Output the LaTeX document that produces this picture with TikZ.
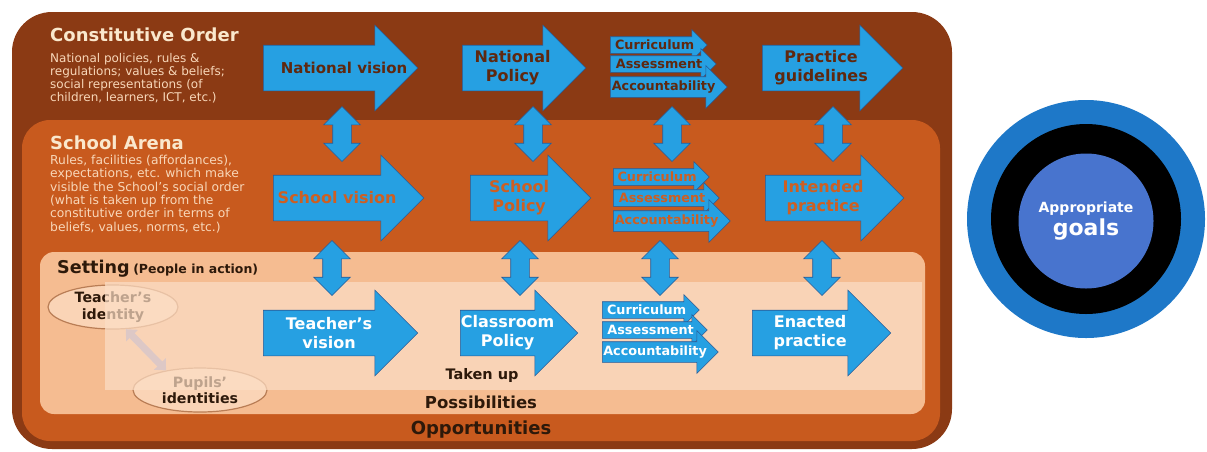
\documentclass[tikz,border=0pt]{standalone}
\usepackage{fontspec}
\setmainfont{DejaVu Sans}
\usetikzlibrary{shapes.arrows,shapes.geometric,arrows.meta}

\definecolor{brownout}{RGB}{139,58,20}
\definecolor{arena}{RGB}{200,90,30}
\definecolor{peach}{RGB}{245,188,145}
\definecolor{peachlight}{RGB}{252,222,198}
\definecolor{arrowblue}{RGB}{38,160,226}
\definecolor{arrowedge}{RGB}{40,90,150}
\definecolor{toptext}{RGB}{95,40,15}
\definecolor{midtext}{RGB}{205,95,35}
\definecolor{darktext}{RGB}{45,25,10}
\definecolor{cream}{RGB}{250,232,205}
\definecolor{desctext}{RGB}{248,215,185}
\definecolor{identedge}{RGB}{185,125,85}
\definecolor{identfill}{RGB}{250,212,182}
\definecolor{linkgray}{RGB}{150,150,200}
\definecolor{ringblue}{RGB}{30,120,200}
\definecolor{coreblue}{RGB}{72,116,206}

\newcommand{\shaftbox}[3]{\parbox[c][#1][c]{#2}{\centering #3}}

\begin{document}
\begin{tikzpicture}[x=1pt, y=-1pt,
    bigarrow/.style={single arrow, draw=arrowedge, line width=0.6pt, fill=arrowblue, inner sep=0pt, single arrow head extend=20pt, anchor=tail, font=\bfseries\fontsize{16}{19}\selectfont},
    smallarrow/.style={single arrow, draw=arrowedge, line width=0.6pt, fill=arrowblue, inner sep=0pt, single arrow head extend=7pt, anchor=tail, font=\bfseries\fontsize{12.8}{14}\selectfont},
    widehead/.style={single arrow head extend=11pt},
    vlink/.style={double arrow, rotate=90, draw=arrowedge, line width=0.6pt, fill=arrowblue, inner xsep=0pt, inner ysep=9pt, double arrow head extend=9pt, minimum height=55pt},
    heading/.style={anchor=base west, text=cream, inner sep=0pt, font=\bfseries\fontsize{18}{20}\selectfont},
    desc/.style={anchor=north west, align=left, text=desctext, inner sep=0pt},
    ident/.style={ellipse, draw=identedge, line width=1.2pt, fill=identfill, inner sep=0pt, minimum width=130pt, minimum height=44pt, align=center, text=darktext, font=\bfseries\fontsize{14.2}{16.5}\selectfont},
    idlink/.style={{Triangle[width=16pt,length=9pt]}-{Triangle[width=16pt,length=9pt]}, line width=7pt, draw=linkgray},
    level/.style={text=darktext, inner sep=0pt}
]
    \fill[white] (0,0) rectangle (1207,451);
    \useasboundingbox (0,0) rectangle (1207,451);

    % Nested frames
    \fill[brownout, rounded corners=40pt] (12,12) rectangle (952,449);
    \fill[arena, rounded corners=28pt] (22,120) rectangle (940,441);
    \fill[peach, rounded corners=14pt] (40,252) rectangle (925,414);

    % Identities
    \node[ident] (tid) at (113,307) {Teacher's\\identity};
    \node[ident, minimum width=134pt] (pid) at (200,390) {Pupils'\\identities};
    \draw[idlink] (tid.-60) -- (pid.150);
    \fill[peachlight, opacity=0.7] (105,282) rectangle (922,390);

    % Labels
    \node[heading] (cohead) at (50,41) {Constitutive Order};
    \node[desc, font=\fontsize{12}{13}\selectfont] (codesc) at (50,53) {National policies, rules \&\\regulations; values \& beliefs;\\social representations (of\\children, learners, ICT, etc.)};
    \node[heading] (sahead) at (50,149) {School Arena};
    \node[desc, font=\fontsize{12.3}{13.3}\selectfont] (sadesc) at (50,155) {Rules, facilities (affordances),\\expectations, etc. which make\\visible the School's social order\\(what is taken up from the\\constitutive order in terms of\\beliefs, values, norms, etc.)};
    \node[anchor=base west, text=darktext, inner sep=0pt, font=\bfseries] (setting) at (57,273) {{\fontsize{17.6}{19}\selectfont Setting} {\fontsize{12.5}{13}\selectfont (People in action)}};

    % Constitutive order row
    \node[bigarrow, text=toptext, font=\bfseries\fontsize{15}{18}\selectfont] (natvision) at (263,68) {\shaftbox{45pt}{131pt}{\hspace*{30pt}\makebox[0pt]{National vision}}};
    \node[bigarrow, text=toptext] (natpolicy) at (462,68) {\shaftbox{45pt}{100pt}{National\\Policy}};
    \node[smallarrow, text=toptext] (natcurr) at (610,45) {\shaftbox{16pt}{88pt}{Curriculum}};
    \node[smallarrow, text=toptext] (natassess) at (610,64) {\shaftbox{16pt}{97pt}{Assessment}};
    \node[smallarrow, widehead, text=toptext] (natacc) at (610,87) {\shaftbox{20pt}{106pt}{Accountability}};
    \node[bigarrow, text=toptext] (natguide) at (762,68) {\shaftbox{45pt}{117pt}{Practice\\guidelines}};

    % School arena row
    \node[bigarrow, text=midtext] (schvision) at (273,198) {\shaftbox{45pt}{127pt}{School vision}};
    \node[bigarrow, text=midtext] (schpolicy) at (470,198) {\shaftbox{45pt}{97pt}{School\\Policy}};
    \node[smallarrow, text=midtext] (schcurr) at (613,177) {\shaftbox{16pt}{87pt}{Curriculum}};
    \node[smallarrow, text=midtext] (schassess) at (613,198) {\shaftbox{16pt}{97pt}{Assessment}};
    \node[smallarrow, widehead, text=midtext] (schacc) at (613,221) {\shaftbox{20pt}{106pt}{Accountability}};
    \node[bigarrow, text=midtext] (schpractice) at (765,198) {\shaftbox{45pt}{115pt}{Intended\\practice}};

    % Setting row
    \node[bigarrow, text=white] (tvision) at (263,333) {\shaftbox{45pt}{131pt}{Teacher's\\vision}};
    \node[bigarrow, text=white] (clpolicy) at (460,333) {\shaftbox{45pt}{94pt}{Classroom\\Policy}};
    \node[smallarrow, text=white] (clcurr) at (602,310) {\shaftbox{16pt}{88pt}{Curriculum}};
    \node[smallarrow, text=white] (classess) at (602,330) {\shaftbox{16pt}{96pt}{Assessment}};
    \node[smallarrow, widehead, text=white] (clacc) at (602,352) {\shaftbox{20pt}{105pt}{Accountability}};
    \node[bigarrow, text=white] (enacted) at (752,333) {\shaftbox{45pt}{115pt}{Enacted\\practice}};

    % Links between levels
    \node[vlink] (upvision) at (342,134) {};
    \node[vlink] (uppolicy) at (533,134) {};
    \node[vlink] (upaspects) at (672,134) {};
    \node[vlink] (uppractice) at (833,134) {};
    \node[vlink] (lowvision) at (332,268) {};
    \node[vlink] (lowpolicy) at (520,268) {};
    \node[vlink] (lowaspects) at (660,268) {};
    \node[vlink] (lowpractice) at (822,268) {};

    \node[level, font=\bfseries\fontsize{14.5}{16}\selectfont] (takenup) at (482,375) {Taken up};
    \node[level, font=\bfseries\fontsize{16.5}{18}\selectfont] (possib) at (481,402) {Possibilities};
    \node[level, font=\bfseries\fontsize{18}{20}\selectfont] (opport) at (481,430) {Opportunities};

    % Goals
    \node[circle, fill=ringblue, minimum size=238pt, inner sep=0pt] (ring) at (1086,219) {};
    \node[circle, fill=black, minimum size=190pt, inner sep=0pt] (band) at (ring) {};
    \node[circle, fill=coreblue, minimum size=135pt, inner sep=0pt, align=center, text=white, font=\bfseries] (goals) at (1086,221) {{\fontsize{14}{16}\selectfont Appropriate}\\[2pt]{\fontsize{22}{22}\selectfont goals}};
\end{tikzpicture}
\end{document}
